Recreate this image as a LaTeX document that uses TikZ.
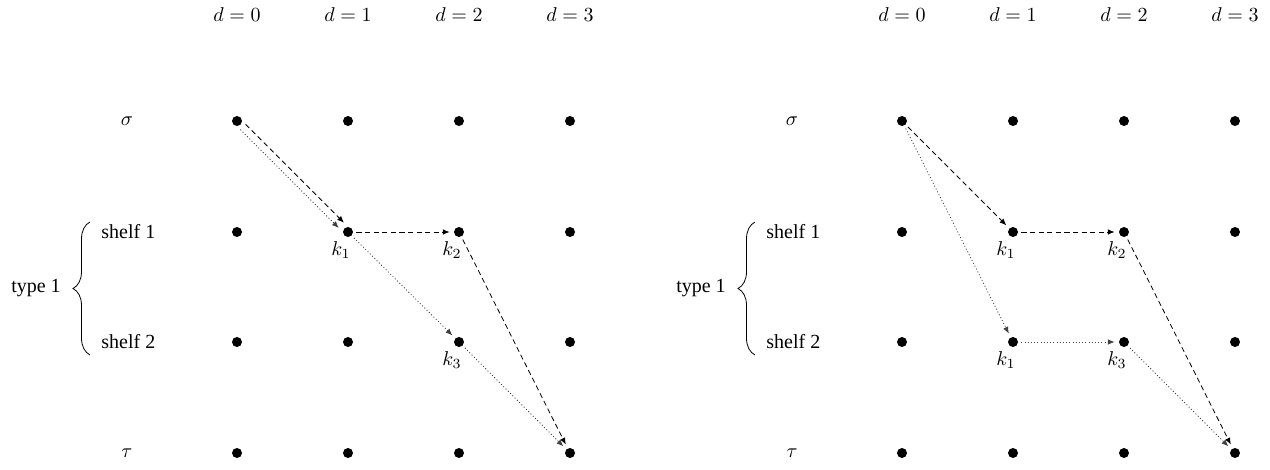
\documentclass[tikz,border=0pt]{standalone}
\usepackage{fontspec}
\setmainfont{Liberation Serif}
\usepackage{tikz}
\usetikzlibrary{arrows.meta,positioning,decorations.pathreplacing}

\begin{document}
\begin{tikzpicture}[
  x=0.5pt,y=-0.5pt,
  dot/.style={circle,fill=black,inner sep=0pt,minimum size=5pt},
  lab/.style={inner sep=1pt},
  klab/.style={anchor=north,inner sep=0pt},
  da/.style={-{Latex[length=3.4pt,width=2.8pt]},dash pattern=on 2.6pt off 1.7pt,
    shorten >=2pt,shorten <=1.5pt},
  dt/.style={-{Latex[length=3.4pt,width=2.8pt]},dash pattern=on 0.5pt off 1.1pt,
    color=black!75,shorten >=2pt,shorten <=1.5pt},
  br/.style={decorate,decoration={brace,amplitude=8.5pt}}
]
  \useasboundingbox (0,0) rectangle (1270,470);

  % left panel
  \node[lab] (ld0) at (237,15) {$d=0$};
  \node[lab] (ld1) at (348,15) {$d=1$};
  \node[lab] (ld2) at (459,15) {$d=2$};
  \node[lab] (ld3) at (570,15) {$d=3$};
  \node[lab] (lsig) at (127,121) {$\sigma$};
  \node[lab,anchor=west] (lsh1) at (99,232) {shelf 1};
  \node[lab,anchor=west] (lsh2) at (99,342) {shelf 2};
  \node[lab] (ltau) at (127,453) {$\tau$};
  \node[lab] (ltype) at (36,288) {type 1};
  \coordinate (lbrb) at (90,355);
  \coordinate (lbrt) at (90,222);
  \draw[br] (lbrb) -- (lbrt);

  \node[dot] (ls0) at (237,121) {}; \node[dot] (ls1) at (348,121) {};
  \node[dot] (ls2) at (459,121) {}; \node[dot] (ls3) at (570,121) {};
  \node[dot] (la0) at (237,232) {}; \node[dot] (la1) at (348,232) {};
  \node[dot] (la2) at (459,232) {}; \node[dot] (la3) at (570,232) {};
  \node[dot] (lb0) at (237,342) {}; \node[dot] (lb1) at (348,342) {};
  \node[dot] (lb2) at (459,342) {}; \node[dot] (lb3) at (570,342) {};
  \node[dot] (lt0) at (237,453) {}; \node[dot] (lt1) at (348,453) {};
  \node[dot] (lt2) at (459,453) {}; \node[dot] (lt3) at (570,453) {};

  \node[klab] (lk1) at ([xshift=-3.5pt,yshift=-2pt]la1.south) {$k_1$};
  \node[klab] (lk2) at ([xshift=-3.5pt,yshift=-2pt]la2.south) {$k_2$};
  \node[klab] (lk3) at ([xshift=-3.5pt,yshift=-2pt]lb2.south) {$k_3$};

  \draw[da,transform canvas={xshift=1.3pt,yshift=1.3pt}] (ls0) -- (la1);
  \draw[dt,transform canvas={xshift=-1.3pt,yshift=-1.3pt}] (ls0) -- (la1);
  \draw[da] (la1) -- (la2);
  \draw[dt] (la1) -- (lb2);
  \draw[da] (la2) -- (lt3);
  \draw[dt] (lb2) -- (lt3);

  % right panel
  \node[lab] (rd0) at (902,15) {$d=0$};
  \node[lab] (rd1) at (1013,15) {$d=1$};
  \node[lab] (rd2) at (1124,15) {$d=2$};
  \node[lab] (rd3) at (1235,15) {$d=3$};
  \node[lab] (rsig) at (792,121) {$\sigma$};
  \node[lab,anchor=west] (rsh1) at (764,232) {shelf 1};
  \node[lab,anchor=west] (rsh2) at (764,342) {shelf 2};
  \node[lab] (rtau) at (792,453) {$\tau$};
  \node[lab] (rtype) at (701,288) {type 1};
  \coordinate (rbrb) at (755,355);
  \coordinate (rbrt) at (755,222);
  \draw[br] (rbrb) -- (rbrt);

  \node[dot] (rs0) at (902,121) {}; \node[dot] (rs1) at (1013,121) {};
  \node[dot] (rs2) at (1124,121) {}; \node[dot] (rs3) at (1235,121) {};
  \node[dot] (ra0) at (902,232) {}; \node[dot] (ra1) at (1013,232) {};
  \node[dot] (ra2) at (1124,232) {}; \node[dot] (ra3) at (1235,232) {};
  \node[dot] (rb0) at (902,342) {}; \node[dot] (rb1) at (1013,342) {};
  \node[dot] (rb2) at (1124,342) {}; \node[dot] (rb3) at (1235,342) {};
  \node[dot] (rt0) at (902,453) {}; \node[dot] (rt1) at (1013,453) {};
  \node[dot] (rt2) at (1124,453) {}; \node[dot] (rt3) at (1235,453) {};

  \node[klab] (rk1) at ([xshift=-3.5pt,yshift=-2pt]ra1.south) {$k_1$};
  \node[klab] (rk2) at ([xshift=-3.5pt,yshift=-2pt]ra2.south) {$k_2$};
  \node[klab] (rk1b) at ([xshift=-3.5pt,yshift=-2pt]rb1.south) {$k_1$};
  \node[klab] (rk3) at ([xshift=-3.5pt,yshift=-2pt]rb2.south) {$k_3$};

  \draw[da] (rs0) -- (ra1);
  \draw[dt] (rs0) -- (rb1);
  \draw[da] (ra1) -- (ra2);
  \draw[dt] (rb1) -- (rb2);
  \draw[da] (ra2) -- (rt3);
  \draw[dt] (rb2) -- (rt3);
\end{tikzpicture}
\end{document}
